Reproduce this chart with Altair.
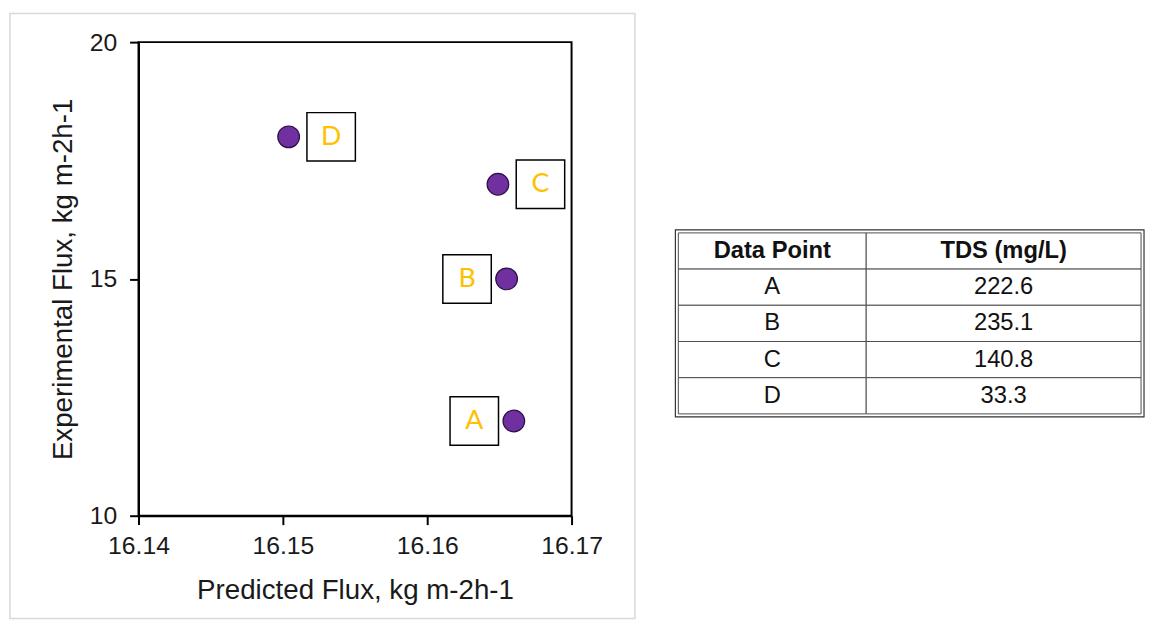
import altair as alt
import pandas as pd

# ---- data ----
point_labels = ["A", "B", "C", "D"]
predicted_flux = [16.1660, 16.1655, 16.1649, 16.1504]
experimental_flux = [12, 15, 17, 18]

table_headers = ["Data Point", "TDS (mg/L)"]
table_points = ["A", "B", "C", "D"]
table_tds = ["222.6", "235.1", "140.8", "33.3"]

x_ticks = [16.14, 16.15, 16.16, 16.17]
y_ticks = [10, 15, 20]

FONT = "Liberation Sans"
TEXT = "#1a1a1a"
W, H = 438, 479
TW, TH = 468, 376

pts = pd.DataFrame({"label": point_labels, "pred": predicted_flux, "exp": experimental_flux})

x_enc = alt.X(
    "pred:Q",
    scale=alt.Scale(domain=[16.14, 16.17], nice=False, zero=False),
    axis=alt.Axis(values=x_ticks, format=".2f", title="Predicted Flux, kg m-2h-1",
                  tickSize=9, labelPadding=9, titlePadding=19, labelFlush=False),
)
y_enc = alt.Y(
    "exp:Q",
    scale=alt.Scale(domain=[10, 20], nice=False, zero=False),
    axis=alt.Axis(values=y_ticks, format="d", title="Experimental Flux, kg m-2h-1",
                  tickSize=9, labelPadding=13, titlePadding=12, labelFlush=False),
)

frame = alt.Chart(alt.Data(values=[{"k": 1}])).mark_rect(
    fillOpacity=0, stroke="#d9d9d9", strokeWidth=1.5
).encode(x=alt.value(-130), x2=alt.value(502), y=alt.value(-29), y2=alt.value(583))

base = alt.Chart(pts).encode(x=x_enc, y=y_enc)

points = base.mark_circle(size=480, color="#7030A0", stroke="#2b0f45", strokeWidth=1.2, opacity=1)

right_sel = alt.FieldOneOfPredicate(field="label", oneOf=["C", "D"])
left_sel = alt.FieldOneOfPredicate(field="label", oneOf=["A", "B"])

box_r = base.transform_filter(right_sel).mark_point(
    shape="square", size=2401, filled=True, fill="white", stroke="black",
    strokeWidth=1.5, opacity=1, xOffset=43)
box_l = base.transform_filter(left_sel).mark_point(
    shape="square", size=2401, filled=True, fill="white", stroke="black",
    strokeWidth=1.5, opacity=1, xOffset=-40)

txt_r = base.transform_filter(right_sel).mark_text(
    dx=43, font="Lato", fontSize=27, color="#FFC000", baseline="middle", align="center"
).encode(text="label:N")
txt_l = base.transform_filter(left_sel).mark_text(
    dx=-40, font="Lato", fontSize=27, color="#FFC000", baseline="middle", align="center"
).encode(text="label:N")

scatter = alt.layer(frame, points, box_l, box_r, txt_l, txt_r).properties(
    width=W, height=H, view=alt.ViewBackground(stroke="black", strokeWidth=2)
)

# ---- table ----
col_edges = [0.0, 0.406, 1.0]
cells = []
for c, h in enumerate(table_headers):
    cells.append({"row": 0, "col": c, "text": h, "head": 1})
for i, (p, t) in enumerate(zip(table_points, table_tds)):
    cells.append({"row": i + 1, "col": 0, "text": p, "head": 0})
    cells.append({"row": i + 1, "col": 1, "text": t, "head": 0})
cdf = pd.DataFrame(cells)
cdf["x0"] = [col_edges[c] for c in cdf["col"]]
cdf["x1"] = [col_edges[c + 1] for c in cdf["col"]]
cdf["xm"] = (cdf["x0"] + cdf["x1"]) / 2
cdf["y0"] = cdf["row"]
cdf["y1"] = cdf["row"] + 1
cdf["ym"] = cdf["row"] + 0.5
n_rows = len(table_points) + 1

tx = alt.Scale(domain=[0, 1], nice=False, zero=False)
# rows occupy the lower part of the panel so the table sits beside the plot's middle
ty = alt.Scale(domain=[-5.27, n_rows], nice=False, zero=False, reverse=True)
tbase = alt.Chart(cdf)
cell_rects = tbase.mark_rect(fill="white", stroke="#4d4d4d", strokeWidth=1).encode(
    x=alt.X("x0:Q", scale=tx, axis=None), x2="x1:Q",
    y=alt.Y("y0:Q", scale=ty, axis=None), y2="y1:Q",
)
head_text = tbase.transform_filter("datum.head == 1").mark_text(
    font=FONT, fontSize=24, fontWeight="bold", color="#111", baseline="middle"
).encode(x=alt.X("xm:Q", scale=tx, axis=None), y=alt.Y("ym:Q", scale=ty, axis=None), text="text:N")
body_text = tbase.transform_filter("datum.head == 0").mark_text(
    font=FONT, fontSize=24, color="#111", baseline="middle"
).encode(x=alt.X("xm:Q", scale=tx, axis=None), y=alt.Y("ym:Q", scale=ty, axis=None), text="text:N")
outer = alt.Chart(alt.Data(values=[{"x0": 0, "x1": 1, "y0": 0, "y1": n_rows}])).mark_rect(
    fillOpacity=0, stroke="#333333", strokeWidth=1.2,
    xOffset=-3, x2Offset=3, yOffset=-3, y2Offset=3,
).encode(
    x=alt.X("x0:Q", scale=tx, axis=None), x2="x1:Q",
    y=alt.Y("y0:Q", scale=ty, axis=None), y2="y1:Q",
)

table_chart = alt.layer(cell_rects, head_text, body_text, outer).properties(
    width=TW, height=TH, view=alt.ViewBackground(stroke="transparent")
)

chart = alt.hconcat(scatter, table_chart, spacing=37).properties(
    padding=0
).configure_axis(
    labelFont=FONT, titleFont=FONT, labelColor=TEXT, titleColor=TEXT,
    labelFontSize=25, titleFontSize=28, titleFontWeight="normal",
    domainColor="black", domainWidth=2, tickColor="black", tickWidth=2, grid=False,
)

chart.save("out.html", embed_options={"renderer": "svg", "actions": False})
